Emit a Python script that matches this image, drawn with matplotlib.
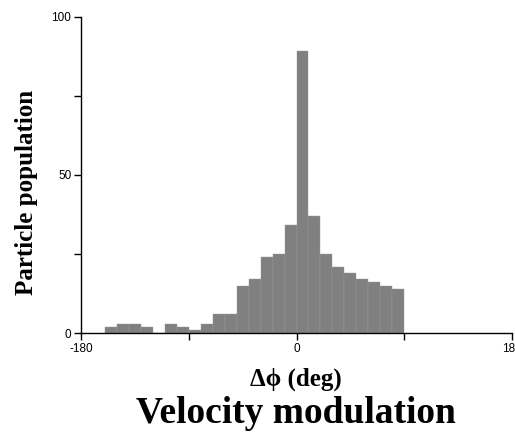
import numpy as np
import matplotlib
matplotlib.use('Agg')
import matplotlib.pyplot as plt

# histogram bins (10 deg wide, left edges) and counts
binLeft = np.arange(-160, 90, 10)
counts = [2, 3, 3, 2, 0, 3, 2, 1, 3, 6, 6, 15, 17, 24, 25, 34,
          89, 37, 25, 21, 19, 17, 16, 15, 14]

xTicks = [-180, -90, 0, 90, 180]
xTickLabels = ['-180', '', '0', '', '180']
yTicks = [0, 25, 50, 75, 100]
yTickLabels = ['0', '', '50', '', '100']

W, H, DPI = 515, 437, 100
fig = plt.figure(figsize=(W / DPI, H / DPI), dpi=DPI)
ax = fig.add_axes([81 / W, 1 - 333 / H, (512 - 81) / W, (333 - 16.7) / H])

ax.bar(binLeft, counts, width=10, align='edge', color='#808080',
       edgecolor='#999999', linewidth=0.3, zorder=2)

ax.set_xlim(-180, 180)
ax.set_ylim(0, 100)
ax.spines['top'].set_visible(False)
ax.spines['right'].set_visible(False)
for s in ['left', 'bottom']:
    ax.spines[s].set_linewidth(1.0)
    ax.spines[s].set_zorder(3)

ax.set_xticks(xTicks)
ax.set_xticklabels(xTickLabels)
ax.set_yticks(yTicks)
ax.set_yticklabels(yTickLabels)
ax.tick_params(direction='out', length=5, width=1, pad=2,
               labelsize=8.5, labelfontfamily='Liberation Sans')

serif = 'Liberation Serif'
fig.text(27 / W, 1 - 192 / H, 'Particle population', rotation=90,
         ha='center', va='center', family=serif, weight='bold', fontsize=18)
fig.text(296 / W, 1 - 379 / H, '\u0394\u03d5 (deg)', ha='center', va='center',
         family=serif, weight='bold', fontsize=18)
fig.text(296 / W, 1 - 423 / H, 'Velocity modulation', ha='center', va='baseline',
         family=serif, weight='bold', fontsize=27)

fig.savefig('out.png', dpi=DPI)
